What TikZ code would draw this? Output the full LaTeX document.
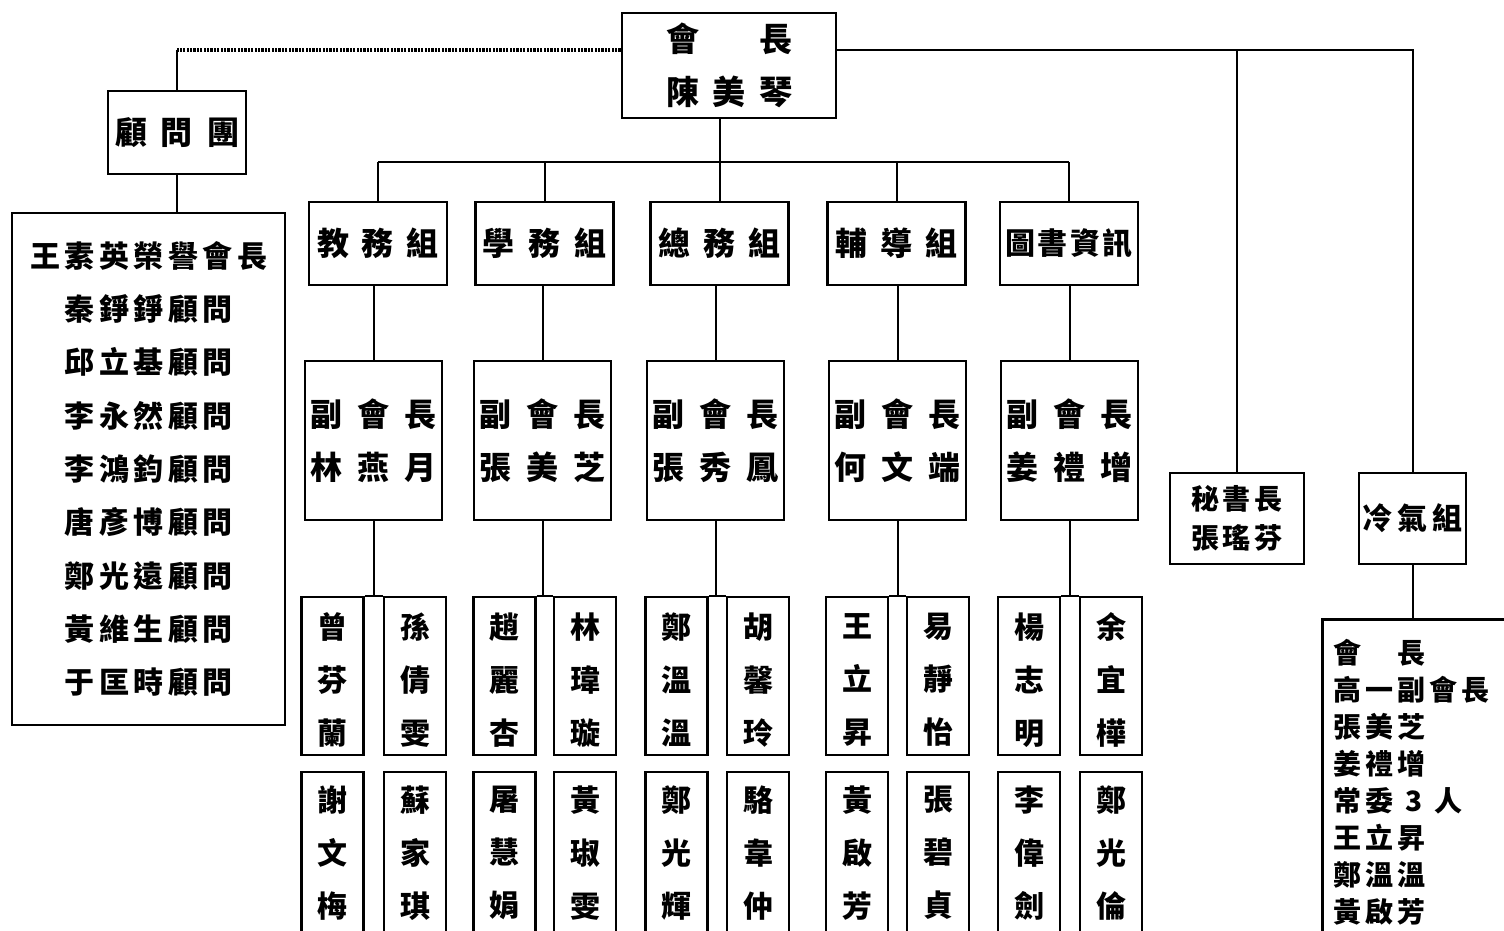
\documentclass[tikz,border=0pt]{standalone}
\usepackage{fontspec}
\newfontfamily\cjk{Noto Sans CJK TC}
\usetikzlibrary{calc}
\makeatletter
\newcommand\spc[2]{\def\spc@gap{#1}\spc@loop#2\relax}
\def\spc@loop#1#2{#1\ifx\relax#2\else\hspace{\spc@gap}\expandafter\spc@loop\expandafter#2\fi}
\makeatother
\begin{document}
\begin{tikzpicture}[x=1pt,y=-1pt,
  bx/.style={draw, line width=2.8pt, inner sep=0pt, align=center},
  ln/.style={line width=2pt},
  dotln/.style={line width=3.2pt, dash pattern=on 2.2pt off 1.2pt},
  tx/.style={inner sep=0pt, align=center},
  f33/.style={font=\cjk\bfseries\fontsize{33}{53}\selectfont},
  f32/.style={font=\cjk\bfseries\fontsize{32}{53}\selectfont},
  f30/.style={font=\cjk\bfseries\fontsize{30}{53.3}\selectfont},
  f28/.style={font=\cjk\bfseries\fontsize{28}{39}\selectfont},
  grp/.style={bx, f32, minimum width=138, minimum height=83},
  vice/.style={bx, f32, minimum width=137, minimum height=159},
  nbox/.style={bx, minimum width=62, minimum height=158},
  nbox2/.style={bx, minimum width=62, minimum height=190},
  ntext/.style={tx, font=\cjk\bfseries\fontsize{30}{53}\selectfont},
]
\useasboundingbox (0,0) rectangle (1504,930);
\fill[white] (0,0) rectangle (1504,930);

% chairman
\node[bx, f33, minimum width=214, minimum height=105] (chair) at (729,65.5)
  {\spc{13.5pt}{會　長}\\\spc{13.5pt}{陳美琴}};
\coordinate (cl) at ([yshift=15.5pt]chair.west);
\coordinate (cr) at ([yshift=15.5pt]chair.east);

% advisors
\node[bx, f32, minimum width=138, minimum height=83] (adv) at (177,132.5) {\spc{14pt}{顧問團}};
\node[bx, f30, minimum width=273, minimum height=512] (advl) at (148.5,469)
  {\spc{4.5pt}{王素英榮譽會長}\\\spc{4.5pt}{秦錚錚顧問}\\\spc{4.5pt}{邱立基顧問}\\
   \spc{4.5pt}{李永然顧問}\\\spc{4.5pt}{李鴻鈞顧問}\\\spc{4.5pt}{唐彥博顧問}\\
   \spc{4.5pt}{鄭光遠顧問}\\\spc{4.5pt}{黃維生顧問}\\\spc{4.5pt}{于匡時顧問}};

\draw[dotln] (cl) -- (cl -| adv.north);
\draw[ln] (cl -| adv.north) -- (adv.north);
\draw[ln] (adv.south) -- (adv.south |- advl.north);

% groups
\node[grp] (g1) at (378,243.5) {\spc{13pt}{教務組}};
\node[grp] (g2) at (544.5,243.5) {\spc{14pt}{學務組}};
\node[grp] (g3) at (719.5,243.5) {\spc{13pt}{總務組}};
\node[grp] (g4) at (896.5,243.5) {\spc{13pt}{輔導組}};
\node[grp, font=\cjk\bfseries\fontsize{30}{40}\selectfont] (g5) at (1069,243.5) {\spc{2.5pt}{圖書資訊}};

\coordinate (bus) at (0,162);
\draw[ln] (chair.south -| g3.north) -- (g3.north |- bus);
\draw[ln] (g1.north |- bus) -- (g5.north |- bus);
\foreach \g in {g1,g2,g3,g4,g5} \draw[ln] (\g.north) -- (\g.north |- bus);

% vice chairs
\node[vice] (v1) at (373.5,440.5) {\spc{15.5pt}{副會長}\\\spc{15.5pt}{林燕月}};
\node[vice] (v2) at (542.5,440.5) {\spc{15.5pt}{副會長}\\\spc{15.5pt}{張美芝}};
\node[vice] (v3) at (715.5,440.5) {\spc{15.5pt}{副會長}\\\spc{15.5pt}{張秀鳳}};
\node[vice] (v4) at (897.5,440.5) {\spc{15.5pt}{副會長}\\\spc{15.5pt}{何文端}};
\node[vice] (v5) at (1069.5,440.5) {\spc{15.5pt}{副會長}\\\spc{15.5pt}{姜禮增}};
\foreach \i in {1,...,5} \draw[ln] (v\i.north) -- (v\i.north |- g\i.south);

% name boxes, row 1
\node[nbox] (a1) at (332.5,676) {};
\node[nbox] (b1) at (415,676) {};
\node[nbox] (a2) at (504.5,676) {};
\node[nbox] (b2) at (585,676) {};
\node[nbox] (a3) at (676.5,676) {};
\node[nbox] (b3) at (758,676) {};
\node[nbox] (a4) at (857,676) {};
\node[nbox] (b4) at (938,676) {};
\node[nbox] (a5) at (1029,676) {};
\node[nbox] (b5) at (1111,676) {};
% name boxes, row 2
\node[nbox2] (c1) at (332.5,867) {};
\node[nbox2] (d1) at (415,867) {};
\node[nbox2] (c2) at (504.5,867) {};
\node[nbox2] (d2) at (585,867) {};
\node[nbox2] (c3) at (676.5,867) {};
\node[nbox2] (d3) at (758,867) {};
\node[nbox2] (c4) at (857,867) {};
\node[nbox2] (d4) at (938,867) {};
\node[nbox2] (c5) at (1029,867) {};
\node[nbox2] (d5) at (1111,867) {};

% names row 1
\node[ntext] (ta1) at (332.5,680) {曾\\芬\\蘭};
\node[ntext] (tb1) at (415,680) {孫\\倩\\雯};
\node[ntext] (ta2) at (504.5,680) {趙\\麗\\杏};
\node[ntext] (tb2) at (585,680) {林\\瑋\\璇};
\node[ntext] (ta3) at (676.5,680) {鄭\\溫\\溫};
\node[ntext] (tb3) at (758,680) {胡\\馨\\玲};
\node[ntext] (ta4) at (857,680) {王\\立\\昇};
\node[ntext] (tb4) at (938,680) {易\\靜\\怡};
\node[ntext] (ta5) at (1029,680) {楊\\志\\明};
\node[ntext] (tb5) at (1111,680) {余\\宜\\樺};
% names row 2
\node[ntext] (tc1) at (332.5,853) {謝\\文\\梅};
\node[ntext] (td1) at (415,853) {蘇\\家\\琪};
\node[ntext] (tc2) at (504.5,853) {屠\\慧\\娟};
\node[ntext] (td2) at (585,853) {黃\\琡\\雯};
\node[ntext] (tc3) at (676.5,853) {鄭\\光\\輝};
\node[ntext] (td3) at (758,853) {駱\\韋\\仲};
\node[ntext] (tc4) at (857,853) {黃\\啟\\芳};
\node[ntext] (td4) at (938,853) {張\\碧\\貞};
\node[ntext] (tc5) at (1029,853) {李\\偉\\劍};
\node[ntext] (td5) at (1111,853) {鄭\\光\\倫};

\foreach \i in {1,...,5} {
  \draw[ln] (a\i.north east) -- (b\i.north west);
  \draw[ln] (v\i.south) -- (v\i.south |- a\i.north);
}

% secretary and air-conditioning group
\node[bx, f28, minimum width=134, minimum height=91] (sec) at (1237,518.5)
  {\spc{4pt}{秘書長}\\\spc{4pt}{張瑤芬}};
\node[bx, font=\cjk\bfseries\fontsize{30}{40}\selectfont, minimum width=107, minimum height=91] (cool) at (1412.5,518.5)
  {\spc{5pt}{冷氣組}};
\draw[ln] (cr) -| (cool.north);
\draw[ln] (cr -| sec.north) -- (sec.north);

\node[bx, anchor=north west, minimum width=250, minimum height=400] (clist) at (1321,618) {};
\draw[ln] (cool.south) -- (cool.south |- clist.north);
\node[tx, anchor=west, align=left, font=\cjk\bfseries\fontsize{28}{37}\selectfont] (clt) at (1333,782.5)
  {\spc{4pt}{會　長}\\\spc{4pt}{高一副會長}\\\spc{4pt}{張美芝}\\\spc{4pt}{姜禮增}\\
   常\hspace{4pt}委\hspace{12pt}3\hspace{12pt}人\\\spc{4pt}{王立昇}\\\spc{4pt}{鄭溫溫}\\\spc{4pt}{黃啟芳}};
\end{tikzpicture}
\end{document}
